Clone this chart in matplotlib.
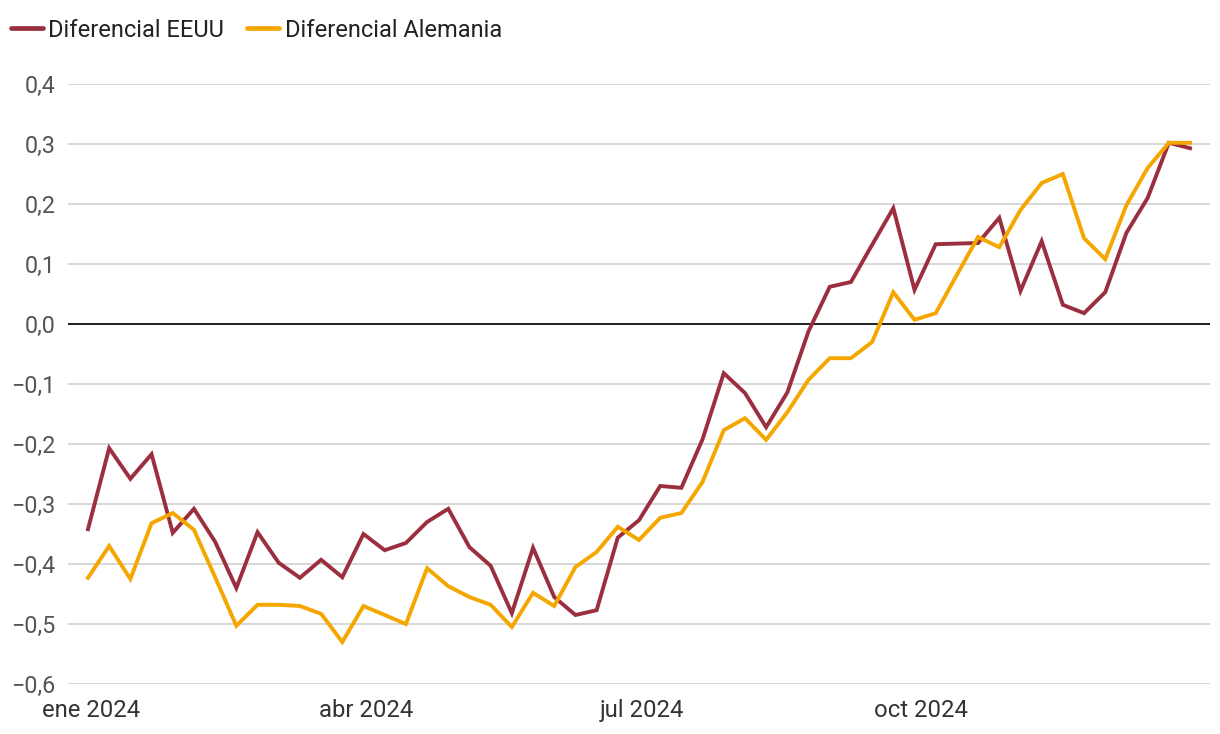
import matplotlib
matplotlib.use("Agg")
import matplotlib.pyplot as plt
import matplotlib.dates as mdates
import matplotlib.ticker as mticker
import pandas as pd
import numpy as np

plt.rcParams['font.family'] = ['Roboto', 'DejaVu Sans']

start_date = "2023-12-31"
n_weeks = 53
dates = pd.date_range(start_date, periods=n_weeks, freq="7D")

eeuu = [-0.342, -0.207, -0.258, -0.217, -0.348, -0.308, -0.363, -0.440, -0.347, -0.398,
        -0.423, -0.393, -0.422, -0.350, -0.377, -0.365, -0.330, -0.308, -0.372, -0.403,
        -0.482, -0.373, -0.455, -0.485, -0.477, -0.356, -0.327, -0.270, -0.273, -0.192,
        -0.082, -0.115, -0.172, -0.114, -0.012, 0.062, 0.070, 0.132, 0.193, 0.057,
        0.133, 0.134, 0.135, 0.177, 0.055, 0.138, 0.032, 0.018, 0.053, 0.152,
        0.210, 0.302, 0.293]

alemania = [-0.423, -0.370, -0.425, -0.332, -0.315, -0.343, -0.422, -0.503, -0.468, -0.468,
            -0.470, -0.483, -0.530, -0.470, -0.485, -0.500, -0.407, -0.437, -0.455, -0.468,
            -0.505, -0.448, -0.470, -0.405, -0.380, -0.338, -0.360, -0.323, -0.315, -0.263,
            -0.177, -0.157, -0.193, -0.147, -0.093, -0.057, -0.057, -0.030, 0.053, 0.007,
            0.018, 0.082, 0.145, 0.128, 0.190, 0.235, 0.250, 0.143, 0.108, 0.198,
            0.260, 0.302, 0.302]

series_names = ["Diferencial EEUU", "Diferencial Alemania"]
colors = ["#9B2F40", "#F5A700"]

xtick_dates = ["2024-01-01", "2024-04-01", "2024-07-01", "2024-10-01"]
xtick_labels = ["ene 2024", "abr 2024", "jul 2024", "oct 2024"]
yticks = [-0.6, -0.5, -0.4, -0.3, -0.2, -0.1, 0.0, 0.1, 0.2, 0.3, 0.4]

W, H = 1220, 734
fig = plt.figure(figsize=(W / 100, H / 100), dpi=100)
ax = fig.add_axes([68 / W, (H - 684) / H, (1210 - 68) / W, 600 / H])

for vals, name, c in zip([eeuu, alemania], series_names, colors):
    ax.plot(dates, vals, color=c, lw=2.8, label=name, solid_joinstyle="miter")

# x limits
x0 = mdates.date2num(dates[0]) - 6.6
x1 = mdates.date2num(dates[-1]) + 6.6
ax.set_xlim(x0, x1)
ax.set_ylim(-0.6, 0.4)

ax.set_yticks(yticks)
ax.yaxis.set_major_formatter(mticker.FuncFormatter(
    lambda v, p: ("\u2212" if v < -1e-9 else "") + f"{abs(v):.1f}".replace(".", ",")))
ax.set_xticks([mdates.date2num(pd.Timestamp(d)) for d in xtick_dates])
ax.set_xticklabels(xtick_labels)

ax.grid(axis="y", color="#d4d4d4", lw=1.3)
ax.set_axisbelow(True)
ax.axhline(0, color="#111111", lw=1.3, zorder=1.5)
for s in ax.spines.values():
    s.set_visible(False)
ax.tick_params(axis="y", length=0, pad=9, labelsize=16.8, labelcolor="#555555")
ax.tick_params(axis="x", length=0, pad=11, labelsize=17.2, labelcolor="#333333")

leg = fig.legend(loc="upper left", bbox_to_anchor=(6 / W, 1 - 14 / H), ncol=2, frameon=False,
                 fontsize=17, handlelength=1.35, handletextpad=0.25, columnspacing=0.95,
                 borderaxespad=0, borderpad=0.2)
for t in leg.get_texts():
    t.set_color("#222222")
for l in leg.get_lines():
    l.set_linewidth(3.4)
    l.set_solid_capstyle("round")

fig.savefig("out.png", dpi=100)
